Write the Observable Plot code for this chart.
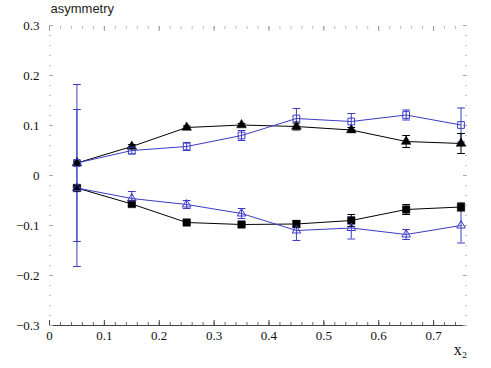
<!DOCTYPE html>
<html><head><meta charset="utf-8">
<script src="https://cdn.jsdelivr.net/npm/d3@7"></script>
<script src="https://cdn.jsdelivr.net/npm/@observablehq/plot@0.6"></script>
<style>
body{margin:0;background:#fff}
svg{display:block}
#chart svg text{font-family:"Liberation Serif","Times New Roman",serif}
#chart svg g.ytitle text{font-family:"Liberation Sans",Arial,sans-serif}
</style>
</head><body><div id="chart"></div>
<script>
// x positions (x2 bins)
const xValues = [0.05, 0.15, 0.25, 0.35, 0.45, 0.55, 0.65, 0.75];
// black filled triangles (upper)
const filledTriangle    = [0.025, 0.058, 0.096, 0.101, 0.098, 0.091, 0.068, 0.064];
const filledTriangleErr = [0.004, 0.004, 0.003, 0.003, 0.007, 0.005, 0.012, 0.020];
// blue open squares (upper)
const openSquare        = [0.025, 0.050, 0.058, 0.080, 0.114, 0.108, 0.121, 0.101];
const openSquareErr     = [0.157, 0.007, 0.008, 0.010, 0.020, 0.016, 0.010, 0.034];
// black filled squares (lower)
const filledSquare      = [-0.025, -0.057, -0.094, -0.098, -0.097, -0.090, -0.068, -0.063];
const filledSquareErr   = [0.004, 0.004, 0.003, 0.003, 0.006, 0.012, 0.010, 0.008];
// blue open triangles (lower)
const openTriangle      = [-0.025, -0.046, -0.058, -0.076, -0.110, -0.105, -0.118, -0.100];
const openTriangleErr   = [0.157, 0.014, 0.008, 0.010, 0.020, 0.022, 0.010, 0.035];

const xMajorTicks = [0, 0.1, 0.2, 0.3, 0.4, 0.5, 0.6, 0.7];
const yMajorTicks = [-0.3, -0.2, -0.1, 0, 0.1, 0.2, 0.3];
const xMinorTicks = d3.range(0, 38).map(i => +(i * 0.02).toFixed(2));
const yMinorTicks = d3.range(-15, 16).map(i => +(i * 0.02).toFixed(2));

const BLUE = "#3c3cc4";
const BLACK = "#000";
const rows = (ys, errs) => xValues.map((x, i) => ({x, y: ys[i], lo: ys[i] - errs[i], hi: ys[i] + errs[i]}));
const sFT = rows(filledTriangle, filledTriangleErr);
const sOS = rows(openSquare, openSquareErr);
const sFS = rows(filledSquare, filledSquareErr);
const sOT = rows(openTriangle, openTriangleErr);

const capShape = {draw(ctx, l) { ctx.moveTo(0, 0); ctx.lineTo(0, -l); }};
const caps = (data, color, len) => [
  Plot.vector(data, {x: "x", y: "hi", length: len, rotate: 90, anchor: "middle", shape: capShape, stroke: color, strokeWidth: 1}),
  Plot.vector(data, {x: "x", y: "lo", length: len, rotate: 90, anchor: "middle", shape: capShape, stroke: color, strokeWidth: 1})
];
const errBars = (data, color) => [
  Plot.ruleX(data, {x: "x", y1: "lo", y2: "hi", stroke: color, strokeWidth: 1}),
  ...caps(data, color, 7)
];

const SERIF = "Liberation Serif";
const SANS = "Liberation Sans";

const chart = Plot.plot({
  width: 491,
  height: 368,
  marginLeft: 49,
  marginRight: 25,
  marginTop: 25,
  marginBottom: 43,
  style: {fontSize: "13px", background: "#fff", color: "#000"},
  x: {domain: [0, 0.76], label: null},
  y: {domain: [-0.3, 0.3], label: null},
  marks: [
    // bottom axis line
    Plot.ruleY([-0.3], {stroke: "#444", strokeWidth: 1}),
    // bottom ticks (inward)
    Plot.axisX(xMinorTicks, {anchor: "bottom", tickSize: -3, fill: "none", stroke: "#666", label: null}),
    Plot.axisX(xMajorTicks, {anchor: "bottom", tickSize: -5, fill: "none", stroke: "#444", label: null}),
    Plot.axisX(xMajorTicks, {anchor: "bottom", tickSize: 0, tickPadding: 5, label: null, fontSize: 13, fontFamily: SERIF, fill: "#111", tickFormat: d => d === 0 ? "0" : d3.format(".1f")(d)}),
    // top ticks
    Plot.axisX(xMinorTicks, {anchor: "top", tickSize: -3, fill: "none", stroke: "#bbb", label: null}),
    Plot.axisX(xMajorTicks, {anchor: "top", tickSize: -5, fill: "none", stroke: "#999", label: null}),
    // left ticks
    Plot.axisY(yMinorTicks, {anchor: "left", tickSize: -2, fill: "none", stroke: "#c8c8c8", label: null}),
    Plot.axisY(yMajorTicks, {anchor: "left", tickSize: -4, fill: "none", stroke: "#aaa", label: null}),
    Plot.axisY(yMajorTicks, {anchor: "left", tickSize: 0, tickPadding: 10, label: null, fontSize: 13, fontFamily: SERIF, fill: "#111", tickFormat: d => d === 0 ? "0" : d3.format(".1f")(d).replace("-", "\u2212")}),
    // right ticks
    Plot.axisY(yMinorTicks, {anchor: "right", tickSize: -2, fill: "none", stroke: "#c8c8c8", label: null}),
    Plot.axisY(yMajorTicks, {anchor: "right", tickSize: -4, fill: "none", stroke: "#aaa", label: null}),
    // error bars
    ...errBars(sOS, BLUE),
    ...errBars(sOT, BLUE),
    ...errBars(sFT, BLACK),
    ...errBars(sFS, BLACK),
    // lines
    Plot.line(sFT, {x: "x", y: "y", stroke: BLACK, strokeWidth: 1}),
    Plot.line(sFS, {x: "x", y: "y", stroke: BLACK, strokeWidth: 1}),
    Plot.line(sOS, {x: "x", y: "y", stroke: BLUE, strokeWidth: 1}),
    Plot.line(sOT, {x: "x", y: "y", stroke: BLUE, strokeWidth: 1}),
    // markers
    Plot.dot(sFT, {x: "x", y: "y", symbol: "triangle", r: 3.6, fill: BLACK, stroke: BLACK, strokeWidth: 0.5}),
    Plot.dot(sFS, {x: "x", y: "y", symbol: "square", r: 4.2, fill: BLACK, stroke: BLACK, strokeWidth: 0.5}),
    Plot.dot(sOS, {x: "x", y: "y", symbol: "square", r: 3.8, fill: "none", stroke: BLUE, strokeWidth: 1}),
    Plot.dot(sOT, {x: "x", y: "y", symbol: "triangle", r: 3.2, fill: "none", stroke: BLUE, strokeWidth: 1}),
    // axis titles
    Plot.text(["asymmetry"], {className: "ytitle", frameAnchor: "top-left", dx: 1, dy: -17, textAnchor: "start", lineAnchor: "middle", fontFamily: SANS, fontSize: 13, fill: "#222"}),
    Plot.text(["x\u2082"], {frameAnchor: "bottom-right", dx: -6, dy: 24, textAnchor: "middle", lineAnchor: "middle", fontFamily: SERIF, fontSize: 16, fill: "#111"})
  ]
});
document.getElementById("chart").appendChild(chart);
</script>
</body></html>
